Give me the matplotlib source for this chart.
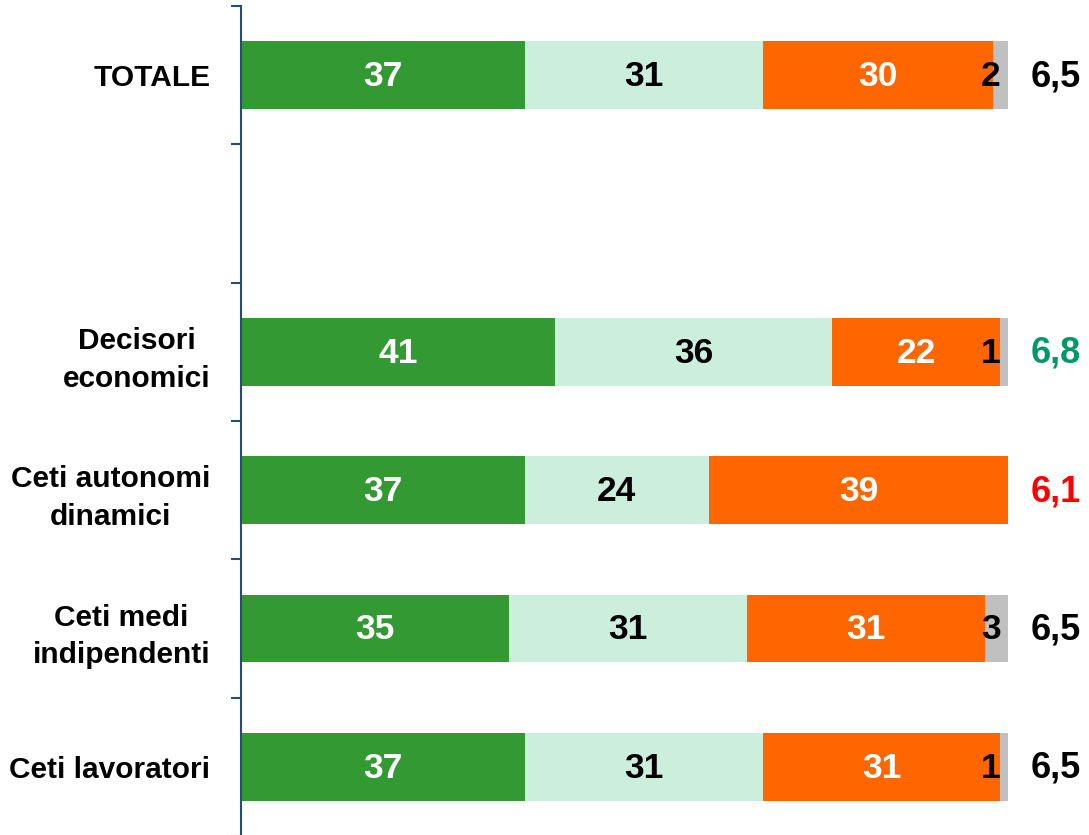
import matplotlib
matplotlib.use("Agg")
import matplotlib.pyplot as plt
import numpy as np

plt.rcParams['font.family'] = ['Liberation Sans', 'DejaVu Sans']
plt.rcParams['font.weight'] = 'bold'

categories = ["TOTALE", "", "Decisori\neconomici", "Ceti autonomi\ndinamici",
              "Ceti medi\nindipendenti", "Ceti lavoratori"]
seg_a = [37, np.nan, 41, 37, 35, 37]
seg_b = [31, np.nan, 36, 24, 31, 31]
seg_c = [30, np.nan, 22, 39, 31, 31]
seg_d = [2, np.nan, 1, 0, 3, 1]
scores = ["6,5", "", "6,8", "6,1", "6,5", "6,5"]
score_colors = ["#000000", "#000000", "#009966", "#FF0000", "#000000", "#000000"]

colors = ["#339933", "#CCEEDD", "#FF6600", "#C0C0C0"]
text_colors = ["white", "black", "white", "black"]

W, H = 1089, 835
fig = plt.figure(figsize=(W / 100, H / 100), dpi=100)
ax = fig.add_axes([241 / W, -1 / H, (1008 - 241) / W, 830 / H])

n = len(categories)
y = np.arange(n)
series = [seg_a, seg_b, seg_c, seg_d]
left = np.zeros(n)
for k, vals in enumerate(series):
    v = np.nan_to_num(np.array(vals, dtype=float))
    ax.barh(y, v, left=left, height=0.49, color=colors[k], edgecolor='none')
    for i in range(n):
        if v[i] <= 0:
            continue
        if k < 3:
            ax.text(left[i] + v[i] / 2, y[i] + 0.01, f"{int(v[i])}", ha='center', va='center',
                    color=text_colors[k], fontsize=25.5, fontweight='bold')
        else:
            ax.text(99, y[i] + 0.01, f"{int(v[i])}", ha='right', va='center',
                    color=text_colors[k], fontsize=25.5, fontweight='bold')
    left += v

for i in range(n):
    if scores[i]:
        ax.text(103, y[i] + 0.01, scores[i], ha='left', va='center', color=score_colors[i],
                fontsize=26, fontweight='bold', clip_on=False)

ax.set_xlim(0, 100)
ax.set_ylim(n - 0.5, -0.5)

for s in ['top', 'right', 'bottom']:
    ax.spines[s].set_visible(False)
ax.spines['left'].set_color('#1F4E79')
ax.spines['left'].set_linewidth(1.5)
ax.set_xticks([])

ax.set_yticks(y)
ax.set_yticklabels(categories, fontsize=21.5, fontweight='bold', multialignment='center',
                   linespacing=1.45)
ax.tick_params(axis='y', which='major', length=0, pad=22)
ax.set_yticks(np.arange(n + 1) - 0.5, minor=True)
ax.tick_params(axis='y', which='minor', length=7, width=1.5, color='#1F4E79', direction='out')

fig.savefig("out.png", dpi=100)
